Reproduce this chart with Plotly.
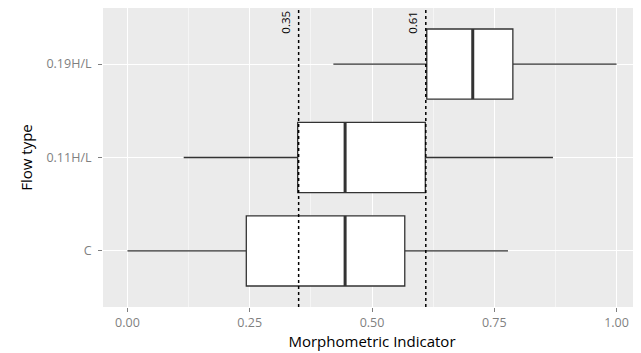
import plotly.graph_objects as go

categories = ["C", "0.11H/L", "0.19H/L"]
lower = [0.00, 0.115, 0.421]
q1 = [0.243, 0.348, 0.612]
median = [0.445, 0.445, 0.706]
q3 = [0.567, 0.609, 0.788]
upper = [0.778, 0.870, 1.00]
vlines = [0.35, 0.61]
vline_labels = ["0.35", "0.61"]
xticks = [0.0, 0.25, 0.5, 0.75, 1.0]
xticklabels = ["0.00", "0.25", "0.50", "0.75", "1.00"]

FONT = "Open Sans"
BW = 0.75

fig = go.Figure()
for i, c in enumerate(categories):
    fig.add_trace(go.Box(
        y=[i], q1=[q1[i]], median=[median[i]], q3=[q3[i]],
        lowerfence=[lower[i]], upperfence=[upper[i]],
        orientation="h", width=BW, whiskerwidth=0,
        fillcolor="white", line=dict(color="#333333", width=1.3),
        boxpoints=False, hoverinfo="skip", showlegend=False,
    ))
    fig.add_shape(type="line", x0=median[i], x1=median[i],
                  y0=i - BW / 2, y1=i + BW / 2, xref="x", yref="y",
                  line=dict(color="#333333", width=3), layer="above")

for v, lab in zip(vlines, vline_labels):
    fig.add_shape(type="line", x0=v, x1=v, y0=0, y1=1, xref="x", yref="paper",
                  line=dict(color="black", width=1.5, dash="dot"), layer="above")
    fig.add_annotation(x=v, y=1, xref="x", yref="paper", text=lab,
                       textangle=-90, showarrow=False, xanchor="right",
                       yanchor="top", xshift=-4, yshift=-1,
                       font=dict(family=FONT, size=11.5, color="black"))

# page body has an 8px default margin; size the figure so the panel lands
# where the reference has it
fig.update_layout(
    width=633, height=345,
    margin=dict(l=95, r=0, t=0, b=46, autoexpand=False),
    paper_bgcolor="white", plot_bgcolor="#EBEBEB",
    font=dict(family=FONT),
    xaxis=dict(range=[-0.05, 1.05], tickvals=xticks, ticktext=xticklabels,
               automargin=False,
               showgrid=True, gridcolor="white", gridwidth=1.2,
               minor=dict(dtick=0.125, tick0=0, showgrid=True,
                          gridcolor="#F5F5F5", gridwidth=0.6),
               ticks="outside", ticklen=4, tickcolor="#7f7f7f",
               tickfont=dict(size=12.5, color="#7f7f7f", family=FONT),
               zeroline=False, showline=False,
               title=dict(text="Morphometric Indicator", standoff=5,
                          font=dict(size=15, color="black", family=FONT))),
    yaxis=dict(range=[-0.6, 2.6], tickvals=list(range(len(categories))),
               ticktext=categories, showgrid=True, gridcolor="white",
               automargin=False, ticklabelstandoff=4,
               gridwidth=1.2, ticks="outside", ticklen=4, tickcolor="#7f7f7f",
               tickfont=dict(size=12.5, color="#7f7f7f", family=FONT),
               zeroline=False, showline=False,
               title=dict(text="Flow type", standoff=10,
                          font=dict(size=15, color="black", family=FONT))),
)

fig.write_html("out.html")
